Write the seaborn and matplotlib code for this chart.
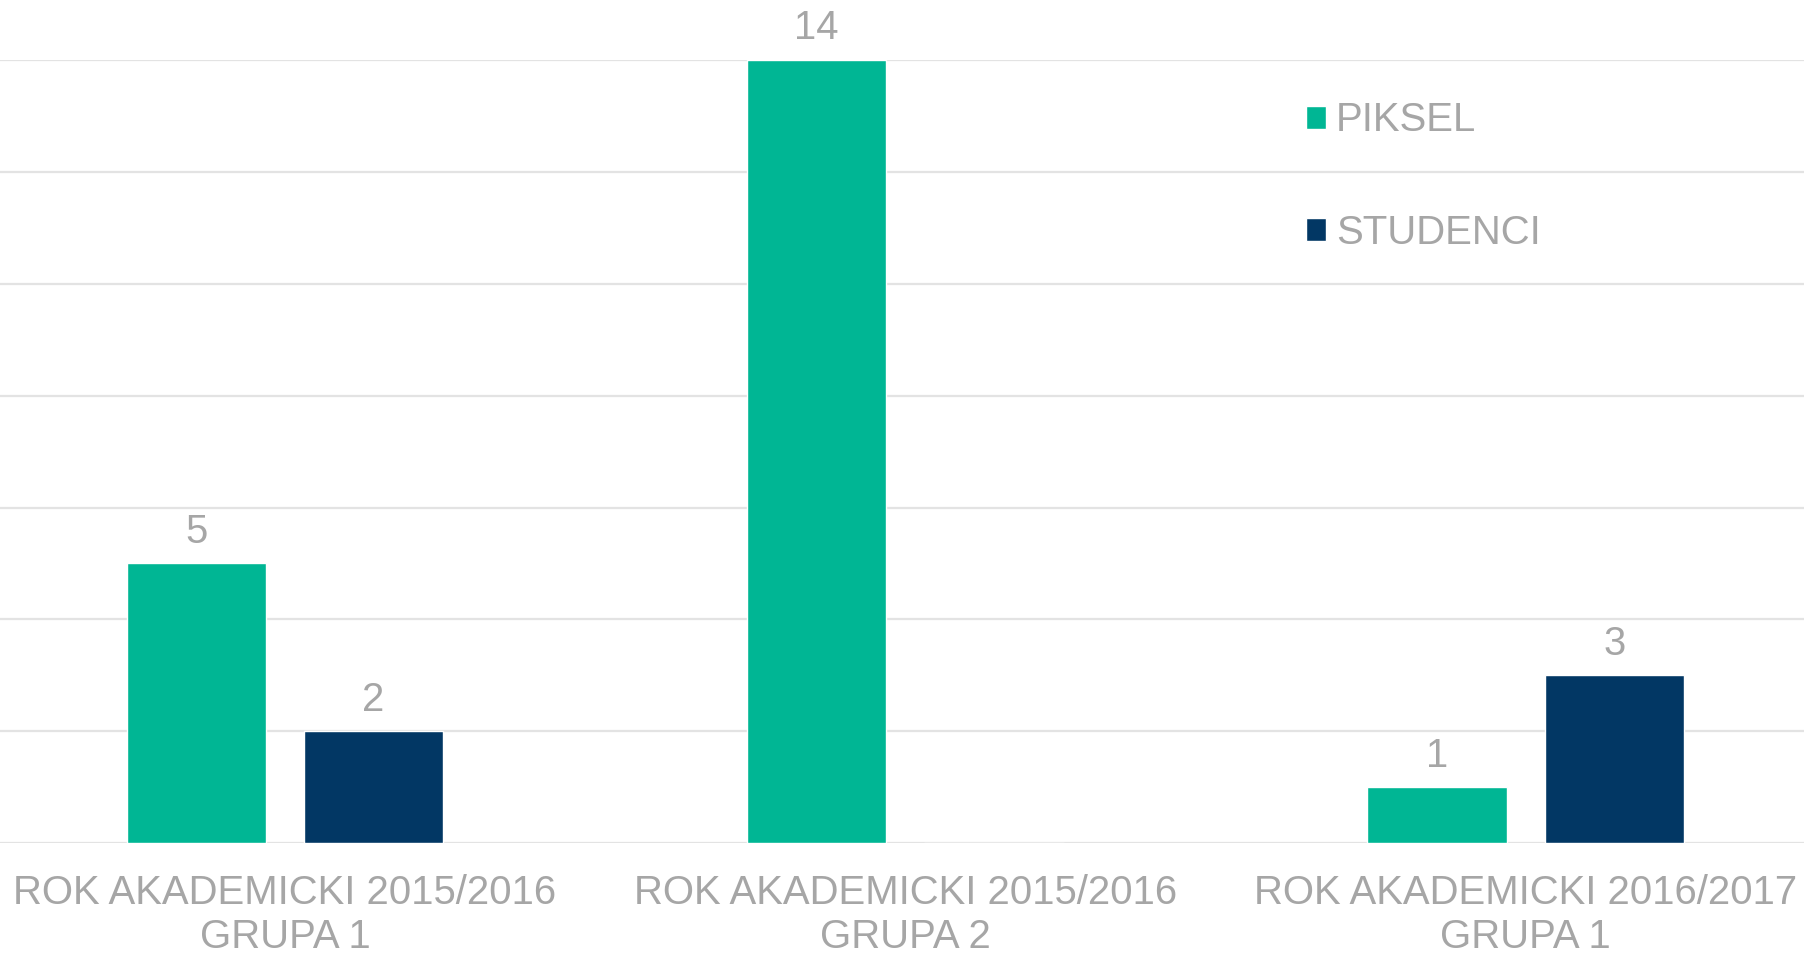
import matplotlib.pyplot as plt
import seaborn as sns
import pandas as pd

categories = ['ROK AKADEMICKI 2015/2016\nGRUPA 1',
              'ROK AKADEMICKI 2015/2016\nGRUPA 2',
              'ROK AKADEMICKI 2016/2017\nGRUPA 1']
series = ['PIKSEL', 'STUDENCI']
piksel = [5, 14, 1]
studenci = [2, 0, 3]
colors = ['#00B694', '#023764']
text_gray = '#A6A6A6'


def main():
    sns.set_style('white')
    plt.rcParams['font.family'] = ['Liberation Sans', 'DejaVu Sans']

    df = pd.DataFrame({
        'group': categories * 2,
        'series': [series[0]] * 3 + [series[1]] * 3,
        'value': piksel + studenci,
    })

    fig = plt.figure(figsize=(18.04, 9.57), dpi=100)
    ax = fig.add_axes([-0.014, 0.1188, 1.0316, 0.8187])

    sns.barplot(data=df, x='group', y='value', hue='series',
                palette=colors, width=0.572, gap=0.215, ax=ax,
                saturation=1, errorbar=None)

    ax.set_ylim(0, 14)
    ax.set_xlim(-0.5, 2.5)
    ax.set_yticks(range(0, 15, 2))
    ax.set_yticklabels([])
    ax.grid(axis='y', color='#E3E3E3', lw=1.6)
    ax.set_axisbelow(True)
    for s in ax.spines.values():
        s.set_visible(False)
    ax.set_xlabel('')
    ax.set_ylabel('')
    ax.tick_params(axis='both', length=0)
    ax.tick_params(axis='x', pad=22, labelsize=28.9, labelcolor=text_gray)
    for t in ax.get_xticklabels():
        t.set_linespacing(1.22)

    for cont in ax.containers:
        labels = [f'{int(b.get_height())}' if b.get_height() > 0 else ''
                  for b in cont]
        ax.bar_label(cont, labels=labels, padding=9, fontsize=28.9,
                     color=text_gray)

    ax.legend(frameon=False, loc='upper left', bbox_to_anchor=(0.696, 0.993),
              fontsize=28.9, labelcolor=text_gray, handlelength=0.5,
              handleheight=0.5, handletextpad=0.25, labelspacing=1.85)

    fig.savefig('out.png', dpi=100)


if __name__ == '__main__':
    main()
